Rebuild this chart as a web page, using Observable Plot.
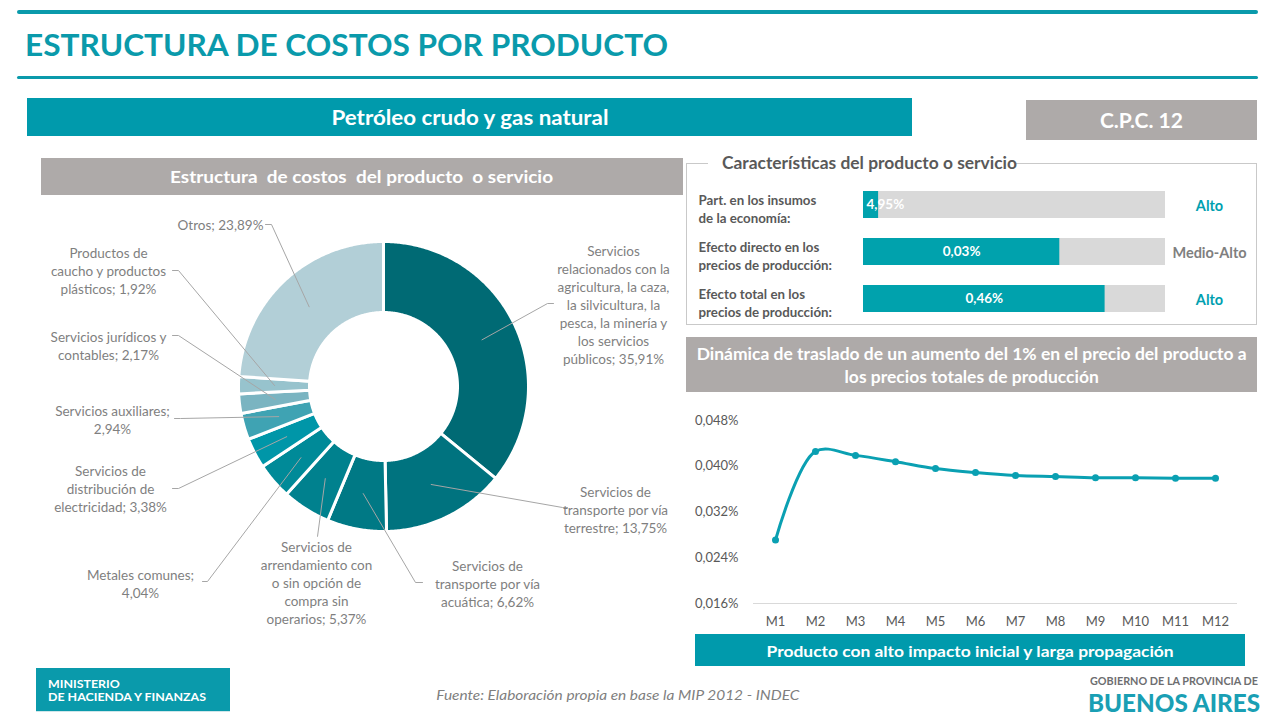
<!DOCTYPE html>
<html><head><meta charset="utf-8">
<script src="https://cdn.jsdelivr.net/npm/d3@7"></script>
<script src="https://cdn.jsdelivr.net/npm/@observablehq/plot@0.6"></script>
<style>
body{margin:0;background:#fff;font-family:Lato,"Open Sans",sans-serif;}
#page{position:relative;width:1280px;height:720px;overflow:hidden;background:#fff;}
.abs{position:absolute;}
.box{position:absolute;display:flex;align-items:center;justify-content:center;color:#fff;font-weight:700;white-space:pre;text-align:center;}
.fit{display:inline-block;white-space:pre;}
.chart{position:absolute;}
</style></head>
<body><div id="page">
  <div class="abs" style="left:17px;top:10px;width:1241px;height:3.5px;background:#0a9aab;border-radius:2px"></div>
  <div class="abs" style="left:17px;top:75.5px;width:1241px;height:3.5px;background:#0a9aab;border-radius:2px"></div>
  <div class="abs" style="left:25px;top:28px;height:32px;display:flex;align-items:center;font-size:31px;font-weight:700;color:#0a9aab"><span class="fit" data-w="643" data-o="left">ESTRUCTURA DE COSTOS POR PRODUCTO</span></div>

  <div class="box" style="left:27px;top:98px;width:885px;height:38px;background:#009aac;font-size:20px"><span class="fit" data-w="277" data-o="center">Petróleo crudo y gas natural</span></div>
  <div class="box" style="left:1026px;top:100px;width:231px;height:40px;background:#aeaaa9;font-size:20px"><span class="fit" data-w="83" data-o="center">C.P.C. 12</span></div>
  <div class="box" style="left:41px;top:158px;width:642px;height:37px;background:#aeaaa9;font-size:17px"><span class="fit" data-w="383" data-o="center">Estructura  de costos  del producto  o servicio</span></div>

  <div class="abs" style="left:686px;top:163px;width:571px;height:162px;border:1px solid #c9c9c9;box-sizing:border-box"></div>
  <div class="abs" style="left:708px;top:152px;height:22px;padding:0 14px;background:#fff;display:flex;align-items:center;font-size:16.5px;font-weight:700;color:#595959"><span class="fit" data-w="295" data-o="left">Características del producto o servicio</span></div>

  <div class="box" style="left:686px;top:337px;width:571px;height:55px;background:#aeaaa9;font-size:17px;line-height:23px"><span class="fit" data-w="550" data-o="center">Dinámica de traslado de un aumento del 1% en el precio del producto a
los precios totales de producción</span></div>

  <div class="box" style="left:695px;top:634px;width:550px;height:32px;background:#009aac;font-size:16px"><span class="fit" data-w="407" data-o="center">Producto con alto impacto inicial y larga propagación</span></div>

  <div class="abs" style="left:36px;top:668px;width:194px;height:43px;background:#0a9aab;border-bottom:1px solid #cfe6ea"></div>
  <div class="abs" style="left:48px;top:677px;color:#fff;font-size:11px;line-height:13px;font-weight:700;white-space:pre"><span class="fit" data-w="158" data-o="left">MINISTERIO
DE HACIENDA Y FINANZAS</span></div>

  <div class="abs" style="left:418px;top:684px;width:400px;height:20px;display:flex;align-items:center;justify-content:center;font-size:14px;font-style:italic;color:#7f7f7f"><span class="fit" data-w="363" data-o="center">Fuente: Elaboración propia en base la MIP 2012 - INDEC</span></div>

  <div class="abs" style="left:1090px;top:674.5px;height:12px;display:flex;align-items:center;font-size:11px;line-height:1;font-weight:700;color:#6d6e70"><span class="fit" data-w="168" data-o="left" style="line-height:1">GOBIERNO DE LA PROVINCIA DE</span></div>
  <div class="abs" style="left:1088px;top:690px;height:24px;display:flex;align-items:center;font-size:25px;line-height:1;font-weight:900;color:#1a9fb4"><span class="fit" data-w="172" data-o="left" style="line-height:1">BUENOS AIRES</span></div>

  <div id="donut" class="chart" style="left:0px;top:200px"></div>
  <div id="bars" class="chart" style="left:690px;top:170px"></div>
  <div id="line" class="chart" style="left:690px;top:395px"></div>
</div>
<script>
// ---------- DATA ----------
const sliceNames = [
  "Servicios\nrelacionados con la\nagricultura, la caza,\nla silvicultura, la\npesca, la minería y\nlos servicios\npúblicos",
  "Servicios de\ntransporte por vía\nterrestre",
  "Servicios de\ntransporte por vía\nacuática",
  "Servicios de\narrendamiento con\no sin opción de\ncompra sin\noperarios",
  "Metales comunes",
  "Servicios de\ndistribución de\nelectricidad",
  "Servicios auxiliares",
  "Servicios jurídicos y\ncontables",
  "Productos de\ncaucho y productos\nplásticos",
  "Otros"
];
const sliceValues = [35.91, 13.75, 6.62, 5.37, 4.04, 3.38, 2.94, 2.17, 1.92, 23.89];
const sliceColors = ["#006a74","#00737f","#007985","#00818e","#008a98","#0096a8","#3fa3b3","#7ab4c1","#97c3cd","#b2cfd7"];

const rowLabels = ["Part. en los insumos\nde la economía:", "Efecto directo en los\nprecios de producción:", "Efecto total en los\nprecios de producción:"];
const rowValues = [4.95, 0.03, 0.46];
const rowFill = [0.05, 0.65, 0.80];
const rowRatings = ["Alto", "Medio-Alto", "Alto"];

const months = ["M1","M2","M3","M4","M5","M6","M7","M8","M9","M10","M11","M12"];
const monthValues = [0.0271, 0.0426, 0.0419, 0.0408, 0.0396, 0.0389, 0.0384, 0.0382, 0.0380, 0.0380, 0.0379, 0.0379];
const yTicks = [0.016, 0.024, 0.032, 0.040, 0.048];

// ---------- LAYOUT (label placement, page px) ----------
const labelLayout = [
  {tx:613, ty:304, ex:547, ey:303, hx:553, br:false},
  {tx:615, ty:509, ex:562, ey:507, hx:567, br:false},
  {tx:487, ty:583, ex:415, ey:582, hx:422, br:false},
  {tx:316, ty:582, ex:317, ey:536, hx:317, br:false},
  {tx:140, ty:583, ex:207, ey:581, hx:202, br:true},
  {tx:110, ty:488, ex:178, ey:488, hx:172, br:false},
  {tx:112, ty:419, ex:180, ey:418, hx:174, br:true},
  {tx:108, ty:345, ex:178, ey:335, hx:172, br:false},
  {tx:108, ty:270, ex:178, ey:270, hx:172, br:false},
  {tx:220, ty:224, ex:271, ey:224, hx:265, br:false}
];
const fmtPct = v => v.toFixed(2).replace(".", ",") + "%";

// ---------- DONUT ----------
(function(){
  const W = 690, H = 440, offY = 200;
  const cx = 383, cy = 386 - offY, R = 145, r0 = 74, rMid = 109;
  const arcs = d3.pie().sort(null).value(d => d)(sliceValues);
  const features = arcs.map((a, i) => {
    const n = Math.max(4, Math.ceil((a.endAngle - a.startAngle) / 0.01));
    const outer = d3.range(n + 1).map(k => a.startAngle + (a.endAngle - a.startAngle) * k / n);
    const ring = outer.map(t => [cx + R * Math.sin(t), cy - R * Math.cos(t)])
      .concat(outer.slice().reverse().map(t => [cx + r0 * Math.sin(t), cy - r0 * Math.cos(t)]));
    ring.push(ring[0]);
    return {type: "Feature", properties: {name: sliceNames[i]}, geometry: {type: "Polygon", coordinates: [ring]}};
  });
  const labels = arcs.map((a, i) => {
    const L = labelLayout[i];
    return {x: L.tx, y: L.ty - offY, text: sliceNames[i] + ";" + (L.br ? "\n" : " ") + fmtPct(sliceValues[i])};
  });
  const leaders = [];
  arcs.forEach((a, i) => {
    const L = labelLayout[i];
    const m = (a.startAngle + a.endAngle) / 2;
    leaders.push({id: i, x: cx + rMid * Math.sin(m), y: cy - rMid * Math.cos(m)});
    leaders.push({id: i, x: L.ex, y: L.ey - offY});
    leaders.push({id: i, x: L.hx, y: L.ey - offY});
  });
  const chart = Plot.plot({
    width: W, height: H, margin: 0,
    projection: {type: "identity"},
    color: {domain: sliceNames, range: sliceColors},
    style: {fontFamily: "Lato, 'Open Sans', sans-serif", overflow: "visible", background: "transparent"},
    marks: [
      Plot.geo(features, {fill: d => d.properties.name, stroke: "#ffffff", strokeWidth: 3}),
      Plot.line(leaders, {x: "x", y: "y", z: "id", stroke: "#a6a6a6", strokeWidth: 1}),
      Plot.text(labels, {x: "x", y: "y", text: "text", fill: "#7f7f7f", fontSize: 13.5, lineHeight: 1.333, textAnchor: "middle"})
    ]
  });
  document.getElementById("donut").appendChild(chart);
})();

// ---------- BARS ----------
(function(){
  const rows = rowLabels.map((l, i) => ({key: String(i), label: l, value: rowValues[i], frac: rowFill[i], rating: rowRatings[i],
    valueText: fmtPct(rowValues[i]), ratingColor: rowRatings[i] === "Alto" ? "#00a0b0" : "#7f7f7f"}));
  const small = rows.filter(d => d.frac < 0.15), big = rows.filter(d => d.frac >= 0.15);
  const chart = Plot.plot({
    width: 568, height: 163, marginLeft: 173, marginRight: 93, marginTop: 0, marginBottom: 0,
    x: {domain: [0, 1], axis: null},
    y: {domain: rows.map(d => d.key), padding: 0.43, axis: null},
    color: {type: "identity"},
    style: {fontFamily: "Lato, 'Open Sans', sans-serif", overflow: "visible", background: "transparent"},
    marks: [
      Plot.barX(rows, {x1: 0, x2: 1, y: "key", fill: "#d9d9d9"}),
      Plot.barX(rows, {x1: 0, x2: "frac", y: "key", fill: "#00a2ad"}),
      Plot.text(small, {x: 0, y: "key", text: "valueText", textAnchor: "start", dx: 3, fill: "#ffffff", fontWeight: 700, fontSize: 13.5}),
      Plot.text(big, {x: d => d.frac / 2, y: "key", text: "valueText", textAnchor: "middle", fill: "#ffffff", fontWeight: 700, fontSize: 13.5}),
      Plot.text(rows, {y: "key", text: "label", frameAnchor: "left", dx: -165, dy: 3, textAnchor: "start", lineHeight: 1.4, fill: "#595959", fontWeight: 700, fontSize: 13.3}),
      Plot.text(rows, {y: "key", text: "rating", frameAnchor: "right", dx: 44, dy: 1, textAnchor: "middle", fill: "ratingColor", fontWeight: 700, fontSize: 14.5})
    ]
  });
  document.getElementById("bars").appendChild(chart);
})();

// ---------- LINE ----------
(function(){
  const data = months.map((m, i) => ({m, v: monthValues[i]}));
  const teal = "#0aa0b2";
  const chart = Plot.plot({
    width: 570, height: 240, marginLeft: 63, marginRight: 23, marginTop: 25, marginBottom: 32,
    x: {type: "point", domain: months, padding: 0.5, tickSize: 0, tickPadding: 13, label: null},
    y: {domain: [0.016, 0.048], ticks: yTicks, tickFormat: v => v.toFixed(3).replace(".", ",") + "%", tickSize: 0, tickPadding: 15, label: null},
    style: {fontFamily: "Lato, 'Open Sans', sans-serif", fontSize: "13px", color: "#595959", overflow: "visible", background: "transparent"},
    marks: [
      Plot.ruleY([0.016], {stroke: "#d9d9d9", strokeWidth: 1}),
      Plot.line(data, {x: "m", y: "v", curve: "catmull-rom", stroke: teal, strokeWidth: 3}),
      Plot.dot(data, {x: "m", y: "v", r: 3.5, fill: teal, stroke: "none"})
    ]
  });
  document.getElementById("line").appendChild(chart);
})();

// ---------- fit texts ----------
function fitAll(){
  document.querySelectorAll(".fit").forEach(el => {
    el.style.transform = "none";
    const w = +el.dataset.w, actual = el.getBoundingClientRect().width;
    if (actual > 0) {
      el.style.transformOrigin = el.dataset.o === "center" ? "center center" : "left center";
      el.style.transform = `scaleX(${w / actual})`;
    }
  });
}
fitAll();
if (document.fonts && document.fonts.ready) document.fonts.ready.then(fitAll);
</script>
</body></html>
